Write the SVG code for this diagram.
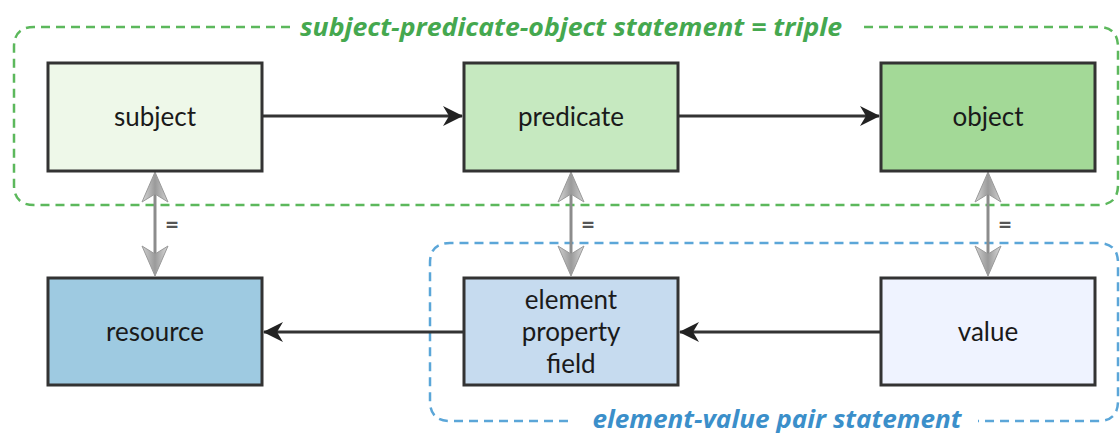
<svg xmlns="http://www.w3.org/2000/svg" width="1120" height="433" viewBox="0 0 1120 433">
<style>
.node{stroke:#333;stroke-width:3}
.lbl{font-family:Lato,"Liberation Sans",sans-serif;font-size:26px;fill:#1a1a1a;text-anchor:middle}
.eq{font-family:"Open Sans","Liberation Sans",sans-serif;font-size:22px;font-weight:bold;fill:#555;text-anchor:middle}
.conn{stroke:#333;stroke-width:3;fill:none}
.gconn{stroke:#8c8c8c;stroke-width:3;fill:none}
.title{font-family:"Open Sans","Liberation Sans",sans-serif;font-size:25px;font-weight:bold;font-style:italic;text-anchor:middle}
</style>
<defs>
<linearGradient id="gg" x1="0" y1="0" x2="1" y2="0">
<stop offset="0" stop-color="#d8d8d8"/><stop offset="0.5" stop-color="#9a9a9a"/><stop offset="1" stop-color="#d0d0d0"/>
</linearGradient>
<path id="ahb" d="M0,0 L-20,-10 L-14,0 L-20,10 Z" fill="#222"/>
<path id="ahg" d="M0,0 L-13,30 L0,22 L13,30 Z" fill="url(#gg)" stroke="#999" stroke-width="1"/>
</defs>
<g id="groups">
<path d="M290,27 H34 Q14,27 14,47 V185 Q14,205 34,205 H1098 Q1118,205 1118,185 V47 Q1118,27 1098,27 H860" fill="none" stroke="#5cb85c" stroke-width="2.5" stroke-dasharray="9,6"/>
<text class="title" x="571" y="36" fill="#45a84f" textLength="542" lengthAdjust="spacingAndGlyphs">subject-predicate-object statement = triple</text>
<path d="M568,421 H450 Q430,421 430,401 V263 Q430,243 450,243 H1098 Q1118,243 1118,263 V401 Q1118,421 1098,421 H978" fill="none" stroke="#5ba6d8" stroke-width="2.5" stroke-dasharray="9,6"/>
<text class="title" x="777" y="428" fill="#3b8fca" textLength="369" lengthAdjust="spacingAndGlyphs">element-value pair statement</text>
</g>
<g id="connectors">
<line class="conn" x1="262" y1="116" x2="462" y2="116"/><use href="#ahb" transform="translate(463,116)"/>
<line class="conn" x1="678" y1="116" x2="879" y2="116"/><use href="#ahb" transform="translate(880,116)"/>
<line class="conn" x1="678" y1="332" x2="264" y2="332"/><use href="#ahb" transform="translate(263,332) rotate(180)"/>
<line class="conn" x1="880" y1="332" x2="680" y2="332"/><use href="#ahb" transform="translate(679,332) rotate(180)"/>
<line class="gconn" x1="155" y1="180" x2="155" y2="268"/>
<use href="#ahg" transform="translate(155,172)"/><use href="#ahg" transform="translate(155,276) rotate(180)"/>
<text class="eq" x="172" y="232">=</text>
<line class="gconn" x1="571" y1="180" x2="571" y2="268"/>
<use href="#ahg" transform="translate(571,172)"/><use href="#ahg" transform="translate(571,276) rotate(180)"/>
<text class="eq" x="588" y="232">=</text>
<line class="gconn" x1="988" y1="180" x2="988" y2="268"/>
<use href="#ahg" transform="translate(988,172)"/><use href="#ahg" transform="translate(988,276) rotate(180)"/>
<text class="eq" x="1005" y="232">=</text>
</g>
<g id="subject"><rect class="node" x="48" y="63" width="214" height="108" fill="#eef8e9"/><text class="lbl" x="155" y="126">subject</text></g>
<g id="predicate"><rect class="node" x="464" y="63" width="214" height="108" fill="#c6e9c0"/><text class="lbl" x="571" y="126">predicate</text></g>
<g id="object"><rect class="node" x="881" y="63" width="214" height="108" fill="#a3d997"/><text class="lbl" x="988" y="126">object</text></g>
<g id="resource"><rect class="node" x="48" y="278" width="214" height="107" fill="#9ecae1"/><text class="lbl" x="155" y="341">resource</text></g>
<g id="element"><rect class="node" x="464" y="278" width="214" height="107" fill="#c6dbef"/><text class="lbl" x="571" y="309">element</text><text class="lbl" x="571" y="341">property</text><text class="lbl" x="571" y="373">field</text></g>
<g id="value"><rect class="node" x="881" y="278" width="214" height="107" fill="#eff3ff"/><text class="lbl" x="988" y="341">value</text></g>
</svg>
